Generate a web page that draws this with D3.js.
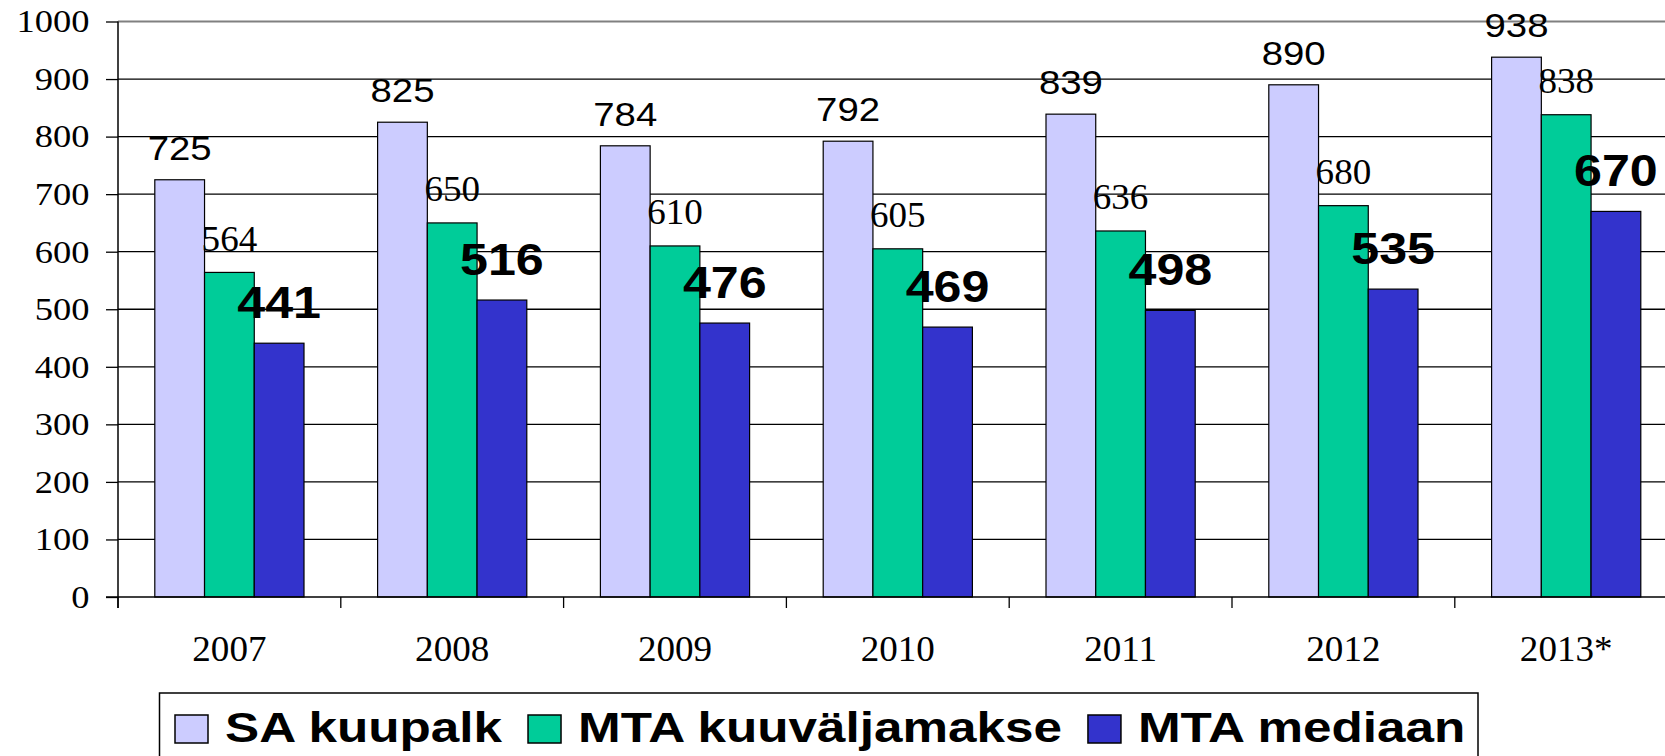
<!DOCTYPE html>
<html>
<head>
<meta charset="utf-8">
<script src="https://cdn.jsdelivr.net/npm/d3@7"></script>
<style>
  body { margin: 0; background: #fff; }
  svg { display: block; }
</style>
</head>
<body>
<svg id="chart" width="1665" height="756"></svg>
<script>
var years = ['2007', '2008', '2009', '2010', '2011', '2012', '2013*'];
var saKuupalk = [725, 825, 784, 792, 839, 890, 938];
var mtaKuuvaljamakse = [564, 650, 610, 605, 636, 680, 838];
var mtaMediaan = [441, 516, 476, 469, 498, 535, 670];
var seriesNames = ['SA kuupalk', 'MTA kuuväljamakse', 'MTA mediaan'];
var yTicks = [0, 100, 200, 300, 400, 500, 600, 700, 800, 900, 1000];

(function() {
  'use strict';

  var serif = '"Liberation Serif", "Times New Roman", serif';
  var sans = '"Liberation Sans", Arial, sans-serif';
  var colors = ['#ccccff', '#00cc99', '#3333cc'];
  var values = [saKuupalk, mtaKuuvaljamakse, mtaMediaan];

  // each series has its own label look in the original
  var labelStyle = [
    {font: sans, size: 32.5, weight: 'normal', sx: 1.18, gap: 20},
    {font: serif, size: 35, weight: 'normal', sx: 1.06, gap: 21.5},
    {font: sans, size: 44, weight: 'bold', sx: 1.14, gap: 25.5}
  ];

  var svg = d3.select('#chart');
  var left = 118, step = 222.8;

  var x0 = d3.scaleBand()
    .domain(years)
    .range([left, left + step * years.length]);

  var x1 = d3.scaleBand()
    .domain(seriesNames)
    .range([0, x0.bandwidth()])
    .paddingOuter(0.74);

  var y = d3.scaleLinear()
    .domain([0, 1000])
    .range([597, 21.5]);

  // text in the source is stretched sideways a bit
  function stretchText(g, x, yy, txt, font, size, weight, sx, anchor) {
    return g.append('text')
      .attr('transform', 'translate(' + x + ',' + yy + ') scale(' + sx + ',1)')
      .attr('text-anchor', anchor || 'middle')
      .style('font-family', font)
      .style('font-size', size + 'px')
      .style('font-weight', weight)
      .attr('fill', '#000')
      .text(txt);
  }

  // gridlines
  svg.append('g')
    .selectAll('line')
    .data(yTicks.filter(function(d) { return d > 0; }))
    .enter().append('line')
    .attr('x1', left)
    .attr('x2', 1665)
    .attr('y1', function(d) { return y(d); })
    .attr('y2', function(d) { return y(d); })
    .attr('stroke', function(d) { return d === 1000 ? '#808080' : '#000'; })
    .attr('stroke-width', function(d) { return d === 1000 ? 1.8 : 1.3; });

  // bars
  var groups = svg.append('g')
    .selectAll('g')
    .data(years)
    .enter().append('g')
    .attr('transform', function(d) { return 'translate(' + x0(d) + ',0)'; });

  groups.selectAll('rect')
    .data(function(d, i) {
      return seriesNames.map(function(s, j) { return {s: s, j: j, v: values[j][i]}; });
    })
    .enter().append('rect')
    .attr('x', function(d) { return x1(d.s); })
    .attr('y', function(d) { return y(d.v); })
    .attr('width', x1.bandwidth())
    .attr('height', function(d) { return y(0) - y(d.v); })
    .attr('fill', function(d) { return colors[d.j]; })
    .attr('stroke', '#000')
    .attr('stroke-width', 1.2);

  // value labels
  var labels = svg.append('g');
  years.forEach(function(yr, i) {
    seriesNames.forEach(function(s, j) {
      var st = labelStyle[j];
      var v = values[j][i];
      stretchText(labels, x0(yr) + x1(s) + x1.bandwidth() / 2, y(v) - st.gap,
        v, st.font, st.size, st.weight, st.sx);
    });
  });

  // y axis
  var yAxis = d3.axisLeft(y)
    .tickValues(yTicks)
    .tickSize(12)
    .tickFormat('');

  var yg = svg.append('g')
    .attr('transform', 'translate(' + left + ',0)')
    .call(yAxis);
  yg.select('.domain').remove();
  yg.selectAll('.tick line').attr('stroke', '#000').attr('stroke-width', 1.3);
  yg.append('line')
    .attr('y1', y(1000))
    .attr('y2', y(0) + 11)
    .attr('stroke', '#000')
    .attr('stroke-width', 1.5);

  yTicks.forEach(function(t) {
    stretchText(svg, 89.5, y(t) + 10.8, t, serif, 32, 'normal', 1.14, 'end');
  });

  // x axis
  var xAxis = d3.axisBottom(x0)
    .tickSize(0)
    .tickFormat('');

  var xg = svg.append('g')
    .attr('transform', 'translate(0,' + y(0) + ')')
    .call(xAxis);
  xg.select('.domain').remove();
  xg.append('line')
    .attr('x1', left - 12)
    .attr('x2', 1665)
    .attr('stroke', '#000')
    .attr('stroke-width', 1.5);

  xg.selectAll('.cat-tick')
    .data(years)
    .enter().append('line')
    .attr('x1', function(d) { return x0(d); })
    .attr('x2', function(d) { return x0(d); })
    .attr('y1', 0)
    .attr('y2', 11)
    .attr('stroke', '#000')
    .attr('stroke-width', 1.3);

  years.forEach(function(yr) {
    stretchText(svg, x0(yr) + x0.bandwidth() / 2, 660.5, yr, serif, 35, 'normal', 1.06);
  });

  // legend
  var legend = svg.append('g');
  legend.append('rect')
    .attr('x', 159.5)
    .attr('y', 693)
    .attr('width', 1318.5)
    .attr('height', 100)
    .attr('fill', '#fff')
    .attr('stroke', '#000')
    .attr('stroke-width', 1.5);

  var lx = 175, lsx = 1.22;
  seriesNames.forEach(function(s, j) {
    legend.append('rect')
      .attr('x', lx)
      .attr('y', 715)
      .attr('width', 33)
      .attr('height', 28)
      .attr('fill', colors[j])
      .attr('stroke', '#000')
      .attr('stroke-width', 1.5);
    var t = stretchText(legend, lx + 50, 741.7, s, sans, 42, 'bold', lsx, 'start');
    lx = lx + 50 + t.node().getComputedTextLength() * lsx + 26;
  });
}());
</script>
</body>
</html>
